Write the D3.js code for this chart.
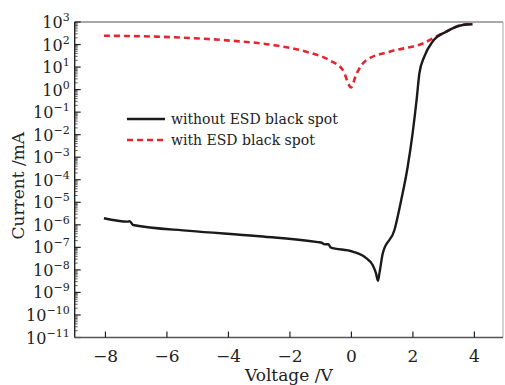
<!DOCTYPE html>
<html><head><meta charset="utf-8">
<script src="https://cdn.jsdelivr.net/npm/d3@7"></script>
<style>body{margin:0;background:#fff}svg{display:block}text{font-family:"DejaVu Serif","Liberation Serif",serif;fill:#222}</style>
</head><body><svg id="c" width="505" height="385"></svg>
<script>
const blackV=[-8.05,-7.27,-7.21,-7.10,-5.26,-3.09,-1.09,-0.97,-0.87,-0.75,-0.68,0.04,0.48,0.69,0.80,0.86,0.91,1.02,1.40,1.62,1.83,1.99,2.12,2.21,2.37,2.64,3.08,3.62,3.94];
const blackI=[1.95e-6,1.38e-6,1.45e-6,9.8e-7,5.4e-7,3.2e-7,1.7e-7,1.6e-7,1.35e-7,1.38e-7,1.0e-7,6.5e-8,3.3e-8,1.66e-8,7e-9,3.3e-9,7e-9,5.5e-8,5.9e-7,1.26e-5,3.8e-4,1.15e-2,0.35,5.2,29,135,370,740,790];
const redV=[-8.05,-6.34,-4.18,-2.55,-1.47,-0.71,-0.28,-0.01,0.15,0.48,1.24,2.32,2.97,3.73,3.84];
const redI=[245,224,158,95,48,20,7.4,1.26,4.5,20,48,112,316,790,790];
const xTicks=[-8,-6,-4,-2,0,2,4];
const yExps=[3,2,1,0,-1,-2,-3,-4,-5,-6,-7,-8,-9,-10,-11];
const legendLabels=["without ESD black spot","with ESD black spot"];

const svg=d3.select("#c");
const L=74.7,R=503,T=22,B=337.5;
const x=d3.scaleLinear().domain([-9,4.93]).range([L,R]);
const y=d3.scaleLog().domain([1e-11,1e3]).range([B,T]);

// frame
svg.append("line").attr("x1",L).attr("x2",R).attr("y1",T).attr("y2",T).attr("stroke","#555").attr("stroke-width",1.2);
svg.append("line").attr("x1",R).attr("x2",R).attr("y1",T).attr("y2",B).attr("stroke","#aaa").attr("stroke-width",1);

// y axis
const ya=svg.append("g").attr("transform",`translate(${L},0)`);
ya.append("line").attr("x1",0).attr("x2",0).attr("y1",T).attr("y2",B).attr("stroke","#222").attr("stroke-width",1.4);
const minor=[];
for(let e=-11;e<3;e++){for(let m=2;m<=9;m++)minor.push(m*Math.pow(10,e));}
ya.selectAll(".mn").data(minor).join("line").attr("x1",0).attr("x2",3).attr("y1",d=>y(d)).attr("y2",d=>y(d)).attr("stroke","#333").attr("stroke-width",0.8);
ya.selectAll(".mj").data(yExps).join("line").attr("x1",0).attr("x2",6).attr("y1",d=>y(Math.pow(10,d))).attr("y2",d=>y(Math.pow(10,d))).attr("stroke","#222").attr("stroke-width",1.2);
const yl=ya.selectAll(".yl").data(yExps).join("text").attr("x",-5).attr("y",d=>y(Math.pow(10,d))+6).attr("text-anchor","end").attr("font-size",16);
yl.append("tspan").text("10");
yl.append("tspan").attr("dy",-7).attr("font-size",11).text(d=>String(d).replace("-","\u2212"));

// x axis
const xa=svg.append("g").attr("transform",`translate(0,${B})`);
xa.append("line").attr("x1",L).attr("x2",R).attr("y1",0).attr("y2",0).attr("stroke","#555").attr("stroke-width",1.4);
xa.selectAll(".xt").data(xTicks).join("line").attr("x1",d=>x(d)).attr("x2",d=>x(d)).attr("y1",0).attr("y2",-6).attr("stroke","#222").attr("stroke-width",1.2);
xa.selectAll(".xl").data(xTicks).join("text").attr("x",d=>x(d)).attr("y",24).attr("text-anchor","middle").attr("font-size",17).text(d=>String(d).replace("-","\u2212"));

svg.append("text").attr("x",(L+R)/2).attr("y",381).attr("text-anchor","middle").attr("font-size",17).text("Voltage /V");
svg.append("text").attr("transform",`translate(24,${(T+B)/2+6}) rotate(-90)`).attr("text-anchor","middle").attr("font-size",17).text("Current /mA");

const line=d3.line().x(d=>x(d[0])).y(d=>y(d[1])).curve(d3.curveMonotoneX);
svg.append("path").attr("d",line(redV.map((v,i)=>[v,redI[i]]))).attr("fill","none").attr("stroke","#e32630").attr("stroke-width",2.6).attr("stroke-dasharray","6,4");
svg.append("path").attr("d",line(blackV.map((v,i)=>[v,blackI[i]]))).attr("fill","none").attr("stroke","#1a1a1a").attr("stroke-width",2.4);

// legend
const lg=svg.append("g");
lg.append("line").attr("x1",127).attr("x2",165).attr("y1",119).attr("y2",119).attr("stroke","#1a1a1a").attr("stroke-width",2.4);
lg.append("line").attr("x1",127).attr("x2",165).attr("y1",140).attr("y2",140).attr("stroke","#e32630").attr("stroke-width",2.6).attr("stroke-dasharray","6,4");
lg.selectAll(".lt").data(legendLabels).join("text").attr("x",171).attr("y",(d,i)=>124+i*21).attr("font-size",14).text(d=>d);
</script></body></html>
